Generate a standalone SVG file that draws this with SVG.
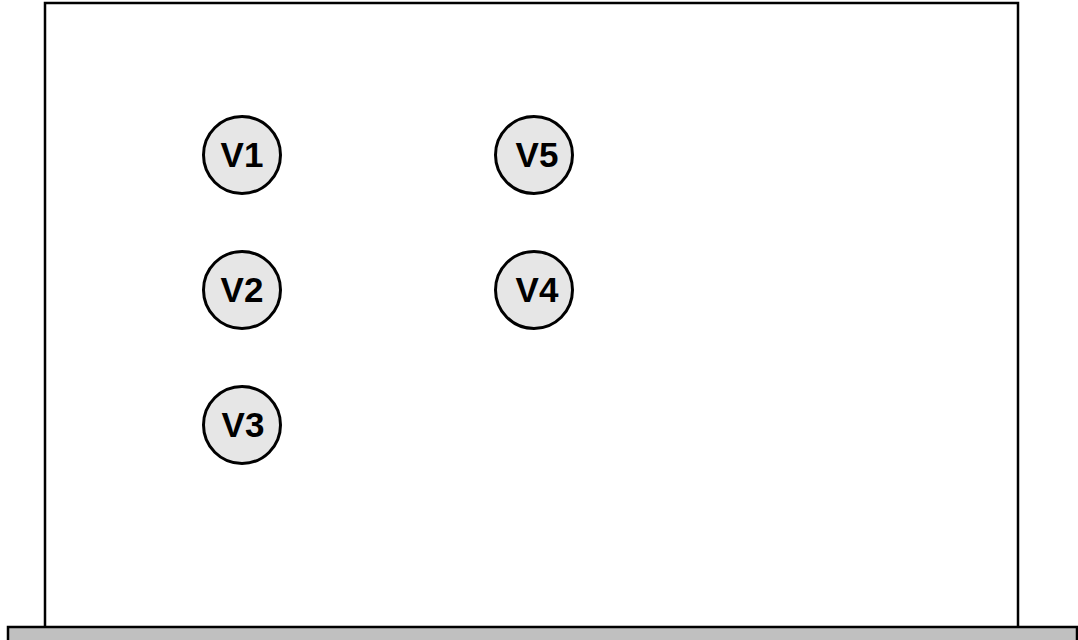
<svg xmlns="http://www.w3.org/2000/svg" width="1078" height="640" viewBox="0 0 1078 640">
<style>
.node circle{fill:#e6e6e6;stroke:#000;stroke-width:3}
.node text{font-family:"Liberation Sans",Arial,sans-serif;font-weight:bold;font-size:35px;text-anchor:middle;fill:#000}
</style>
<rect width="1078" height="640" fill="#fff"/>
<g id="frame">
<rect x="45" y="3" width="973" height="640" fill="#fff" stroke="#000" stroke-width="2.5"/>
</g>
<g id="base">
<rect x="8" y="627" width="1069" height="20" fill="#c0c0c0" stroke="#000" stroke-width="2.5"/>
</g>
<g id="connectors"></g>
<g id="V1" class="node"><circle cx="242" cy="155" r="38.5"/><text x="242" y="167">V1</text></g>
<g id="V2" class="node"><circle cx="242" cy="290" r="38.5"/><text x="242" y="302">V2</text></g>
<g id="V3" class="node"><circle cx="242" cy="425" r="38.5"/><text x="243" y="437">V3</text></g>
<g id="V5" class="node"><circle cx="534" cy="155" r="38.5"/><text x="537" y="167">V5</text></g>
<g id="V4" class="node"><circle cx="534" cy="290" r="38.5"/><text x="537" y="302">V4</text></g>
</svg>
